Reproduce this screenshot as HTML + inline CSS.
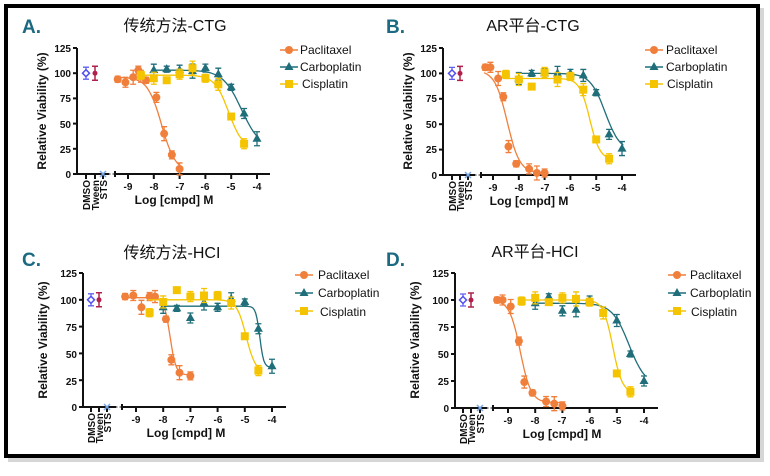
<!DOCTYPE html>
<html><head><meta charset="utf-8"><style>
body{margin:0;background:#fff;width:770px;height:476px;overflow:hidden}
svg{position:absolute;left:0;top:0}
.t{font-family:"Liberation Sans","Noto Sans CJK SC",sans-serif;font-size:16px;fill:#111;text-anchor:middle}
.k{font-family:"Liberation Sans",sans-serif;font-size:10px;font-weight:bold;fill:#111}
.l{font-family:"Liberation Sans",sans-serif;font-size:12px;fill:#111}
.p{font-family:"Liberation Sans",sans-serif;font-size:19px;font-weight:bold;fill:#1b6a82}
</style></head><body>
<svg width="770" height="476" id="s">
<rect x="8" y="8" width="756" height="454" fill="#bbb" opacity="0.6"/>
<rect x="6" y="6" width="752" height="450" fill="#fff" stroke="#000" stroke-width="4"/>
<g id="g"></g>
<text class="p" x="22" y="33">A.</text>
<text class="p" x="386" y="33">B.</text>
<text class="p" x="22" y="266">C.</text>
<text class="p" x="386" y="266">D.</text>
<text class="t" x="175" y="31">传统方法-CTG</text>
<text class="t" x="533" y="31">AR平台-CTG</text>
<text class="t" x="172" y="258">传统方法-HCI</text>
<text class="t" x="535" y="257">AR平台-HCI</text>
<g class="l">
<text x="300" y="54">Paclitaxel</text><text x="300" y="71">Carboplatin</text><text x="302" y="88">Cisplatin</text>
<text x="666" y="54">Paclitaxel</text><text x="666" y="71">Carboplatin</text><text x="667" y="88">Cisplatin</text>
<text x="318" y="279">Paclitaxel</text><text x="318" y="297">Carboplatin</text><text x="320" y="316">Cisplatin</text>
<text x="690" y="279">Paclitaxel</text><text x="690" y="297">Carboplatin</text><text x="691" y="316">Cisplatin</text>
</g>
<g class="k" text-anchor="end">
<text x="71" y="52">125</text><text x="71" y="77">100</text><text x="71" y="102">75</text><text x="71" y="128">50</text><text x="71" y="153">25</text><text x="71" y="178">0</text>
<text x="437" y="52">125</text><text x="437" y="77">100</text><text x="437" y="102">75</text><text x="437" y="128">50</text><text x="437" y="153">25</text><text x="437" y="179">0</text>
<text x="77" y="277">125</text><text x="77" y="304">100</text><text x="77" y="331">75</text><text x="77" y="358">50</text><text x="77" y="385">25</text><text x="77" y="411">0</text>
<text x="449" y="277">125</text><text x="449" y="304">100</text><text x="449" y="331">75</text><text x="449" y="358">50</text><text x="449" y="385">25</text><text x="449" y="412">0</text>
</g>
<g class="k" text-anchor="middle">
<text x="128" y="190">-9</text><text x="154" y="190">-8</text><text x="180" y="190">-7</text><text x="205" y="190">-6</text><text x="231" y="190">-5</text><text x="257" y="190">-4</text>
<text x="493" y="191">-9</text><text x="519" y="191">-8</text><text x="545" y="191">-7</text><text x="570" y="191">-6</text><text x="596" y="191">-5</text><text x="622" y="191">-4</text>
<text x="136" y="423">-9</text><text x="163" y="423">-8</text><text x="190" y="423">-7</text><text x="218" y="423">-6</text><text x="245" y="423">-5</text><text x="272" y="423">-4</text>
<text x="508" y="424">-9</text><text x="535" y="424">-8</text><text x="562" y="424">-7</text><text x="590" y="424">-6</text><text x="617" y="424">-5</text><text x="644" y="424">-4</text>
</g>
<g font-family="Liberation Sans,sans-serif" font-size="12" font-weight="bold" fill="#111" text-anchor="middle">
<text x="174" y="204">Log [cmpd] M</text><text x="529" y="205">Log [cmpd] M</text>
<text x="186" y="437">Log [cmpd] M</text><text x="562" y="438">Log [cmpd] M</text>
<text transform="translate(46,111) rotate(-90)">Relative Viability (%)</text>
<text transform="translate(26,111) rotate(-90)" x="0" dx="0" style="display:none"></text>
<text transform="translate(412,111) rotate(-90)">Relative Viability (%)</text>
<text transform="translate(47,340) rotate(-90)">Relative Viability (%)</text>
<text transform="translate(419,340) rotate(-90)">Relative Viability (%)</text>
</g>
<g class="k" font-size="9" text-anchor="end">
<text transform="translate(90,180) rotate(-90)">DMSO</text><text transform="translate(99,180) rotate(-90)">Tween</text><text transform="translate(107,180) rotate(-90)">STS</text>
<text transform="translate(456,181) rotate(-90)">DMSO</text><text transform="translate(464,181) rotate(-90)">Tween</text><text transform="translate(472,181) rotate(-90)">STS</text>
<text transform="translate(95,413) rotate(-90)">DMSO</text><text transform="translate(103,413) rotate(-90)">Tween</text><text transform="translate(111,413) rotate(-90)">STS</text>
<text transform="translate(467,414) rotate(-90)">DMSO</text><text transform="translate(475,414) rotate(-90)">Tween</text><text transform="translate(484,414) rotate(-90)">STS</text>
</g>
</svg>
<script>
var NS="http://www.w3.org/2000/svg",G=document.getElementById("g");
function el(n,a){var e=document.createElementNS(NS,n);for(var k in a)e.setAttribute(k,a[k]);G.appendChild(e);return e}
var O="#f07f3c",T="#1f6e7a",Y="#f5c400";
var P=[
{ax:77,y125:48,y0:174,x9:128,x4:257,ctl:[86,95,103],br:115,end:270,lx:280,ly:[50,67,84],
 d:[[[-9.4,94],[-9.1,91],[-8.8,96],[-8.6,103],[-8.5,97],[-8.3,93],[-7.9,76],[-7.6,40],[-7.3,19],[-7,5]],
    [[-8,103],[-7.5,104],[-7,103],[-6.5,102],[-6,105],[-5.5,99],[-5,86],[-4.5,60],[-4,35]],
    [[-8.5,98],[-8,95],[-7.5,93],[-7,99],[-6.5,105],[-6,95],[-5.5,89],[-5,57],[-4.5,30]]],
 f:[[96,2,-7.7,1.6],[103,25,-4.6,1.2],[98,25,-5.1,1.6]]},
{ax:443,y125:48,y0:175,x9:493,x4:622,ctl:[452,460,468],br:481,end:636,lx:645,ly:[50,67,84],
 d:[[[-9.3,106],[-9.1,106],[-8.8,95],[-8.6,77],[-8.4,28],[-8.1,11],[-7.6,6],[-7.3,2],[-7,2]],
    [[-8,95],[-7.5,100],[-7,100],[-6.5,100],[-6,100],[-5.5,98],[-5,81],[-4.5,40],[-4,26]],
    [[-8.5,99],[-8,94],[-7.5,87],[-7,101],[-6.5,94],[-6,97],[-5.5,84],[-5,35],[-4.5,16]]],
 f:[[103,2,-8.45,1.8],[100,23,-4.65,1.5],[95,15,-5.25,2.2]]},
{ax:83,y125:273,y0:407,x9:136,x4:272,ctl:[91,99,107],br:122,end:286,lx:295,ly:[275,293,311],
 d:[[[-9.4,103],[-9.1,104],[-8.8,93],[-8.5,103],[-8.3,103],[-7.9,82],[-7.7,44],[-7.4,32],[-7,29]],
    [[-8,93],[-7.5,92],[-7,83],[-6.5,97],[-6,93],[-5.5,101],[-5,98],[-4.5,73],[-4,38]],
    [[-8.5,88],[-8,98],[-7.5,109],[-7,103],[-6.5,104],[-6,104],[-5.5,97],[-5,66],[-4.5,34]]],
 f:[[102,30,-7.75,4],[94,37,-4.45,6],[100,32,-4.95,2.5]]},
{ax:455,y125:273,y0:408,x9:508,x4:644,ctl:[463,471,480],br:493,end:658,lx:668,ly:[275,293,311],
 d:[[[-9.4,100],[-9.2,100],[-8.9,94],[-8.6,62],[-8.4,24],[-8.1,14],[-7.6,6],[-7.3,4],[-7,2]],
    [[-8,97],[-7.5,103],[-7,90],[-6.5,91],[-6,100],[-5,81],[-4.5,50],[-4,25]],
    [[-8.5,99],[-8,102],[-7.5,98],[-7,102],[-6.5,101],[-6,98],[-5.5,88],[-5,32],[-4.5,15]]],
 f:[[100,5,-8.55,2.2],[97,20,-4.55,1.4],[100,14,-5.15,2.5]]}];
var C=[O,T,Y];
function mk(sh,x,y,c){var r=4;
 if(sh==0)el("circle",{cx:x,cy:y,r:r,fill:c});
 else if(sh==1)el("polygon",{points:(x)+","+(y-r-1)+" "+(x-r-0.5)+","+(y+r-1)+" "+(x+r+0.5)+","+(y+r-1),fill:c});
 else el("rect",{x:x-r,y:y-r,width:2*r,height:2*r,fill:c});}
P.forEach(function(p){
 var sy=(p.y0-p.y125)/125,sx=(p.x4-p.x9)/5;
 var X=function(l){return p.x9+(l+9)*sx},Yv=function(v){return p.y0-v*sy};
 el("path",{d:"M"+p.ax+","+(p.y125)+"V"+p.y0+"H"+(p.br-6),stroke:"#111","stroke-width":2,fill:"none"});
 for(var v=0;v<=125;v+=25)el("line",{x1:p.ax-4,x2:p.ax,y1:Yv(v),y2:Yv(v),stroke:"#111","stroke-width":2});
 p.ctl.forEach(function(x){el("line",{x1:x,x2:x,y1:p.y0,y2:p.y0+5,stroke:"#111","stroke-width":2})});
 el("line",{x1:p.br-6,x2:p.br,y1:p.y0,y2:p.y0,stroke:"#111","stroke-width":1,"stroke-dasharray":"1.5,2"});
 el("path",{d:"M"+p.br+","+(p.y0-3)+"V"+(p.y0+3)+"M"+p.br+","+p.y0+"H"+p.end,stroke:"#111","stroke-width":2,fill:"none"});
 for(var l=-9;l<=-4;l++)el("line",{x1:X(l),x2:X(l),y1:p.y0,y2:p.y0+5,stroke:"#111","stroke-width":2});
 // controls
 var dx=p.ctl[0],tx=p.ctl[1],y100=Yv(100);
 el("path",{d:"M"+dx+","+(y100-6)+"V"+(y100+6)+"M"+(dx-3)+","+(y100-6)+"h6M"+(dx-3)+","+(y100+6)+"h6",stroke:"#6060f0","stroke-width":1.3});
 el("polygon",{points:dx+","+(y100-3.5)+" "+(dx+3.5)+","+y100+" "+dx+","+(y100+3.5)+" "+(dx-3.5)+","+y100,fill:"#fff",stroke:"#5050f0","stroke-width":1.5});
 el("path",{d:"M"+tx+","+(y100-7)+"V"+(y100+7)+"M"+(tx-3)+","+(y100-7)+"h6M"+(tx-3)+","+(y100+7)+"h6",stroke:"#b0204a","stroke-width":1.5});
 el("circle",{cx:tx,cy:y100,r:2.5,fill:"#b0204a"});
 var sx2=p.ctl[2];el("path",{d:"M"+(sx2-3)+","+(p.y0-3)+"l6,6M"+(sx2+3)+","+(p.y0-3)+"l-6,6",stroke:"#7aa8e8","stroke-width":1.5});
 for(var s=0;s<3;s++){
  var f=p.f[s],pts=[],lo=p.d[s][0][0]-0.05,hi=p.d[s][p.d[s].length-1][0]+0.05;
  for(var l=lo;l<=hi;l+=0.05){var v=f[1]+(f[0]-f[1])/(1+Math.pow(10,(l-f[2])*f[3]));pts.push(X(l).toFixed(1)+","+Yv(v).toFixed(1))}
  el("polyline",{points:pts.join(" "),fill:"none",stroke:C[s],"stroke-width":1.3});
  p.d[s].forEach(function(q,i){var x=X(q[0]),y=Yv(q[1]),e=3+((i*7+s*3)%5);
   el("path",{d:"M"+x+","+(y-e)+"V"+(y+e)+"M"+(x-3)+","+(y-e)+"h6M"+(x-3)+","+(y+e)+"h6",stroke:C[s],"stroke-width":1.3});
   mk(s,x,y,C[s]);});
  var ly=p.ly[s];el("line",{x1:p.lx,x2:p.lx+18,y1:ly,y2:ly,stroke:C[s],"stroke-width":1.5});mk(s,p.lx+9,ly,C[s]);
 }
});
</script>
</body></html>
